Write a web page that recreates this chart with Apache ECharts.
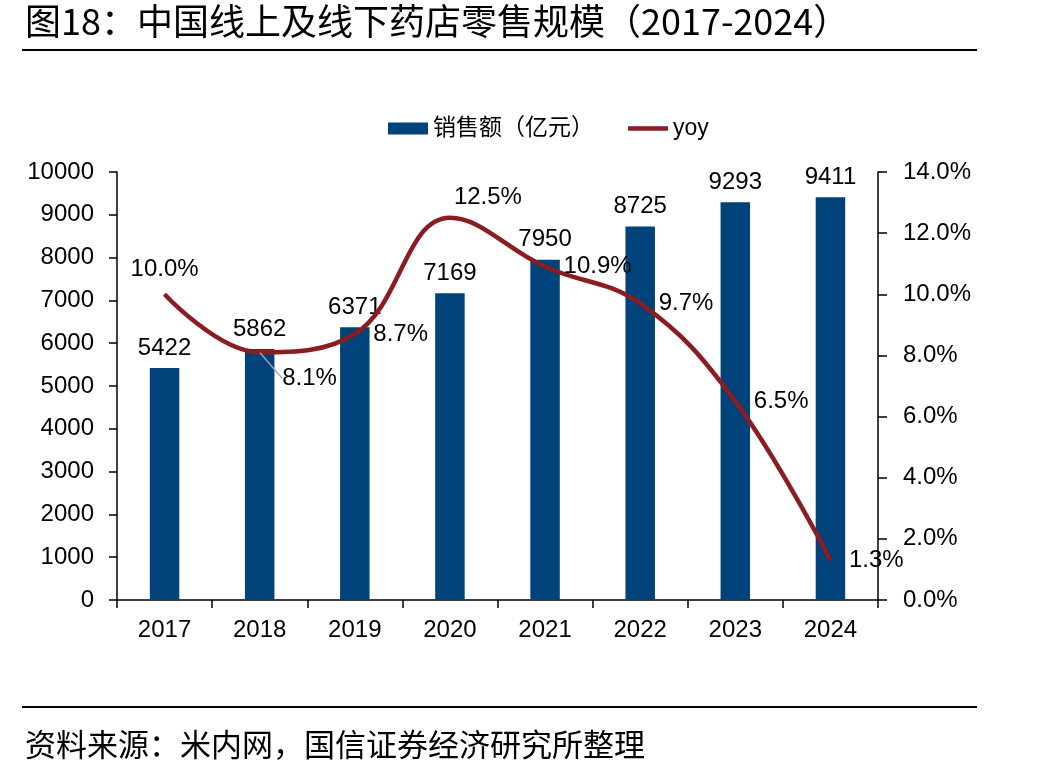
<!DOCTYPE html>
<html>
<head>
<meta charset="utf-8">
<script src="https://cdn.jsdelivr.net/npm/echarts@6/dist/echarts.min.js"></script>
<style>
  html, body { margin: 0; padding: 0; background: #fff; }
  #chart { width: 1047px; height: 775px; }
</style>
</head>
<body>
<div id="chart"></div>
<script>
// chart data
const years = ['2017', '2018', '2019', '2020', '2021', '2022', '2023', '2024'];
const sales = [5422, 5862, 6371, 7169, 7950, 8725, 9293, 9411];
const yoy = [10.0, 8.1, 8.7, 12.5, 10.9, 9.7, 6.5, 1.3];

const FONT = "'Liberation Sans', 'Noto Sans CJK SC', sans-serif";
const CJK = "'Noto Sans CJK SC', sans-serif";

let myChart = echarts.init(document.getElementById('chart'));

// per-point label placement for the yoy line
let yoyData = yoy.map(function (v, i) {
    let item = {value: v};
    if (i === 0) {
        item.label = {position: 'top', distance: 12};
    } else if (i === 1) {
        item.labelLine = {show: true};
    } else if (i === 3) {
        item.label = {position: 'top', distance: 8};
    }
    return item;
});

let option = {
    backgroundColor: '#fff',
    animation: false,
    title: [
        {
            text: '图18：中国线上及线下药店零售规模（2017-2024）',
            left: 20,
            top: -2,
            textStyle: {fontFamily: CJK, fontSize: 36, fontWeight: 'normal', color: '#000'}
        },
        {
            text: '资料来源：米内网，国信证券经济研究所整理',
            left: 20,
            top: 724,
            textStyle: {fontFamily: CJK, fontSize: 31, fontWeight: 'normal', color: '#000'}
        }
    ],
    graphic: [
        {type: 'line', shape: {x1: 22, y1: 50, x2: 977, y2: 50}, style: {stroke: '#000', lineWidth: 2}},
        {type: 'line', shape: {x1: 22, y1: 707, x2: 977, y2: 707}, style: {stroke: '#000', lineWidth: 2}}
    ],
    legend: {
        left: 383,
        top: 112,
        itemWidth: 40,
        itemHeight: 12,
        itemGap: 34,
        textStyle: {fontFamily: FONT, fontSize: 23, color: '#000'},
        data: [
            {name: '销售额（亿元）', icon: 'rect'},
            {name: 'yoy', icon: 'path://M0 0H44V5H0Z'}
        ]
    },
    grid: {left: 117, right: 169, top: 172, bottom: 175},
    xAxis: {
        type: 'category',
        data: years,
        axisLine: {lineStyle: {color: '#000', width: 1.5}},
        axisTick: {show: true, length: 8, lineStyle: {color: '#000', width: 1.5}},
        axisLabel: {fontFamily: FONT, fontSize: 24, color: '#000', margin: 18}
    },
    yAxis: [
        {
            type: 'value',
            min: 0,
            max: 10000,
            interval: 1000,
            axisLine: {show: true, lineStyle: {color: '#000', width: 1.5}},
            axisTick: {show: true, length: 8, lineStyle: {color: '#000', width: 1.5}},
            axisLabel: {
                fontFamily: FONT, fontSize: 24, color: '#000', margin: 23,
                formatter: function (v) { return String(v); }
            },
            splitLine: {show: false}
        },
        {
            type: 'value',
            min: 0,
            max: 14,
            interval: 2,
            position: 'right',
            axisLine: {show: true, lineStyle: {color: '#000', width: 1.5}},
            axisTick: {show: true, length: 9, lineStyle: {color: '#000', width: 1.5}},
            axisLabel: {
                fontFamily: FONT, fontSize: 24, color: '#000', margin: 25,
                formatter: function (v) { return v.toFixed(1) + '%'; }
            },
            splitLine: {show: false}
        }
    ],
    series: [
        {
            name: '销售额（亿元）',
            type: 'bar',
            data: sales,
            barWidth: '31%',
            itemStyle: {color: '#00427A'},
            label: {
                show: true,
                position: 'top',
                distance: 8,
                fontFamily: FONT,
                fontSize: 24,
                color: '#000'
            }
        },
        {
            name: 'yoy',
            type: 'line',
            yAxisIndex: 1,
            data: yoyData,
            smooth: 0.4,
            symbol: 'circle',
            symbolSize: 1,
            showSymbol: true,
            itemStyle: {color: '#8B1C22'},
            lineStyle: {color: '#8B1C22', width: 4.5},
            label: {
                show: true,
                position: 'right',
                distance: 18,
                fontFamily: FONT,
                fontSize: 24,
                color: '#000',
                formatter: function (p) { return p.value.toFixed(1) + '%'; }
            },
            labelLine: {show: false, lineStyle: {color: '#A6A6A6', width: 1.5}},
            labelLayout: function (params) {
                if (params.dataIndex === 1) {
                    return {dx: 4, dy: 26};
                }
                if (params.dataIndex === 3) {
                    return {dx: 38};
                }
                return {};
            },
            z: 3
        }
    ]
};

myChart.setOption(option);
</script>
</body>
</html>
